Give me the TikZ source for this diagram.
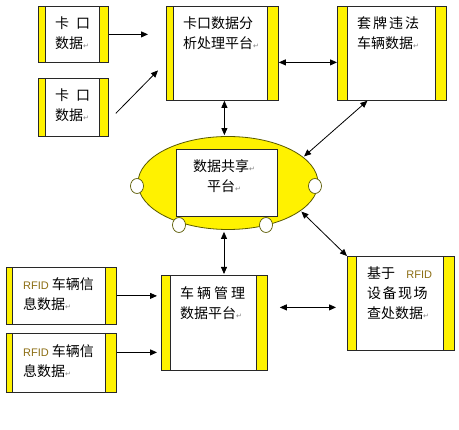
\documentclass[tikz,border=0pt]{standalone}
\usepackage{fontspec}
\setmainfont{Noto Sans CJK SC}
\newfontfamily\latinf{Liberation Sans}
\newfontfamily\symf{DejaVu Sans}
\usetikzlibrary{arrows.meta,shapes.geometric}
\definecolor{rfidc}{RGB}{140,110,20}
\definecolor{ellb}{RGB}{90,90,0}
\definecolor{boxb}{RGB}{40,40,40}
\newcommand\parmk{{\symf\fontsize{7}{7}\selectfont\color{gray}↵}}
\newcommand\rfid{{\latinf\fontsize{11}{11}\selectfont\color{rfidc}RFID}}
\newcommand\stripes[3]{%
  \draw[stripe] (#1.north west) rectangle ([xshift=#2pt]#1.south west);
  \draw[stripe] ([xshift=-#3pt]#1.north east) rectangle (#1.south east);}
\begin{document}
\begin{tikzpicture}[x=1pt,y=-1pt,
  box/.style={draw=boxb, line width=0.8pt, fill=white, rectangle, inner sep=0pt, anchor=north west},
  stripe/.style={draw=boxb, line width=0.8pt, fill=yellow},
  txt/.style={inner sep=0pt, anchor=north west, align=left, font={\fontsize{14}{20}\selectfont}},
  dot/.style={ellipse, draw=ellb, line width=0.7pt, fill=white, minimum width=13pt, minimum height=15pt, inner sep=0pt},
  arr/.style={line width=0.8pt, -{Triangle[length=7pt,width=6pt]}},
  darr/.style={line width=0.8pt, {Triangle[length=7pt,width=6pt]}-{Triangle[length=7pt,width=6pt]}}]
\useasboundingbox (0,0) rectangle (459,430);
\fill[white] (0,0) rectangle (459,430);

% boxes
\node[box, minimum width=70pt, minimum height=56pt] (b1) at (38,6) {};
\node[box, minimum width=70pt, minimum height=58pt] (b2) at (38,78) {};
\node[box, minimum width=112pt, minimum height=94pt] (b3) at (166,6) {};
\node[box, minimum width=109pt, minimum height=94pt] (b4) at (337,6) {};
\node[box, minimum width=106pt, minimum height=95pt] (b5) at (161,275) {};
\node[box, minimum width=107pt, minimum height=94pt] (b6) at (347,256) {};
\node[box, minimum width=110pt, minimum height=57pt] (b7) at (6,267) {};
\node[box, minimum width=110pt, minimum height=59pt] (b8) at (6,333) {};
\stripes{b1}{7}{9}
\stripes{b2}{7}{9}
\stripes{b3}{7}{11}
\stripes{b4}{10}{11}
\stripes{b5}{9}{11}
\stripes{b6}{9}{11}
\stripes{b7}{6}{11}
\stripes{b8}{6}{11}

% ellipse
\node[ellipse, draw=ellb, fill=yellow, line width=0.8pt, minimum width=180pt, minimum height=93pt, inner sep=0pt] (ell) at (228,183) {};
\node[box, anchor=center, minimum width=101pt, minimum height=67pt] (share) at (226.5,182.5) {};
\node[dot] (c1) at (137,186) {};
\node[dot] (c2) at (315,186) {};
\node[dot] (c3) at (179,225) {};
\node[dot] (c4) at (266,225) {};

% texts
\node[txt] (t1) at (55,17) {卡\hspace{0.5em}口\\数据\parmk};
\node[txt] (t2) at (55,89) {卡\hspace{0.5em}口\\数据\parmk};
\node[txt] (t3) at (183,17) {卡口数据分\\析处理平台\parmk};
\node[txt] (t4) at (357,17) {套\hspace{2pt}牌\hspace{2pt}违\hspace{2pt}法\\车辆数据\parmk};
\node[txt, anchor=north, align=center] (ts) at (224,159.5) {数据共享\parmk\\平台\parmk};
\node[txt] (t5) at (180,286) {车\hspace{3pt}辆\hspace{3pt}管\hspace{3pt}理\\数据平台\parmk};
\node[txt] (t6) at (367,267) {基于\hspace{0.8em}\rfid\\设\hspace{1.5pt}备\hspace{1.5pt}现\hspace{1.5pt}场\\查处数据\parmk};
\node[txt] (t7) at (23,277) {\rfid\ 车辆信\\息数据\parmk};
\node[txt] (t8) at (23,344) {\rfid\ 车辆信\\息数据\parmk};

% connectors
\draw[arr, shorten >=18pt] (b1.east) -- (b1.east -| b3.west);
\draw[arr] ([shift={(7,6)}]b2.east) -- ([shift={(-8,17)}]b3.west);
\draw[darr] ([yshift=-9pt]b3.east) -- ([yshift=-9pt]b3.east -| b4.west);
\draw[darr, shorten >=1pt] ([xshift=2pt]b3.south) -- ([xshift=2pt]b3.south |- ell.north);
\draw[darr, shorten <=1pt] (ell.19) -- ([xshift=-24.5pt]b4.south);
\draw[darr, shorten <=1pt] (ell.-21) -- (b6.north west);
\draw[darr, shorten <=2pt, shorten >=1pt] ([xshift=-4pt]ell.south) -- ([xshift=-4pt]ell.south |- b5.north);
\draw[darr, shorten <=11pt, shorten >=12pt] ([yshift=-4pt]b6.west) -- ([yshift=-4pt]b6.west -| b5.east);
\draw[arr, shorten >=4pt] (b7.east) -- (b7.east -| b5.west);
\draw[arr, shorten >=4pt] ([yshift=10.5pt]b8.east) -- ([yshift=10.5pt]b8.east -| b5.west);
\end{tikzpicture}
\end{document}
